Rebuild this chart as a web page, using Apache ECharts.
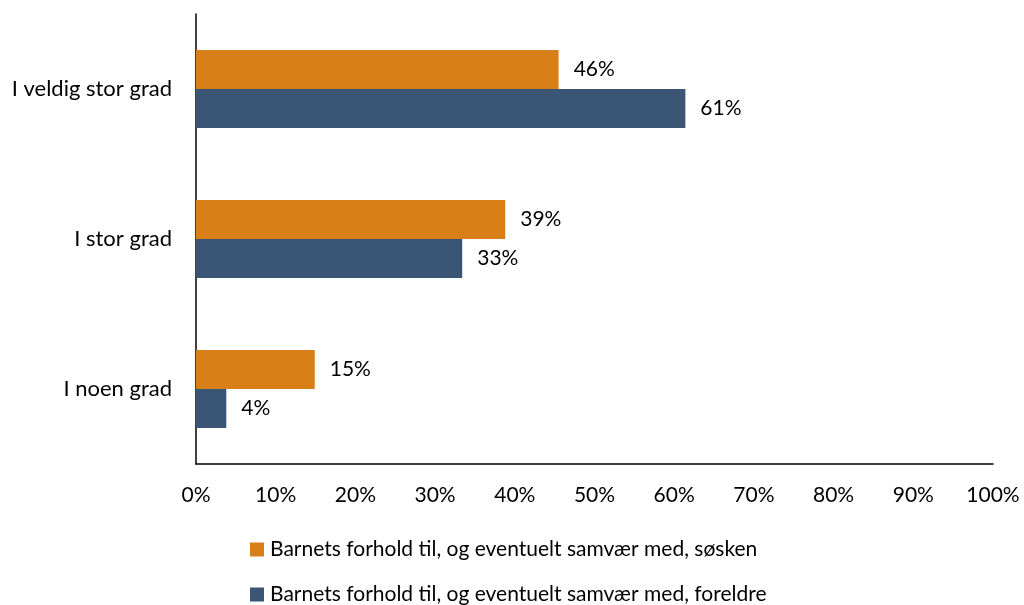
<!DOCTYPE html>
<html>
<head>
<meta charset="utf-8">
<script src="https://cdn.jsdelivr.net/npm/echarts@6/dist/echarts.min.js"></script>
<style>html,body{margin:0;padding:0;background:#fff}#c{width:1024px;height:605px}</style>
</head>
<body>
<div id="c"></div>
<script>
const categories = ["I veldig stor grad", "I stor grad", "I noen grad"];
const seriesNames = ["Barnets forhold til, og eventuelt samvær med, søsken", "Barnets forhold til, og eventuelt samvær med, foreldre"];
const soskenValues = [45.5, 38.8, 14.9];
const foreldreValues = [61.4, 33.4, 3.8];
const xTicks = [0, 10, 20, 30, 40, 50, 60, 70, 80, 90, 100];

const FONT = "Lato";
const FS = 21;
const chart = echarts.init(document.getElementById('c'), null, {renderer: 'canvas'});
const catRev = categories.slice().reverse();
const labelCfg = {show: true, position: 'right', distance: 15, color: '#000', fontFamily: FONT, fontSize: FS,
  formatter: p => Math.round(p.value) + '%'};
const legendBase = {orient: 'horizontal', left: 250, padding: 0, itemWidth: 14, itemHeight: 14, icon: 'rect',
  textStyle: {fontFamily: FONT, fontSize: FS, color: '#000', padding: [0, 0, 0, 1]}};
chart.setOption({
  animation: false,
  textStyle: {fontFamily: FONT},
  grid: {left: 196, right: 31, top: 14, bottom: 141, containLabel: false},
  legend: [
    Object.assign({}, legendBase, {top: 539, data: [seriesNames[0]]}),
    Object.assign({}, legendBase, {top: 584, data: [seriesNames[1]]})
  ],
  xAxis: {
    type: 'value', min: xTicks[0], max: xTicks[xTicks.length - 1], interval: 10,
    axisLine: {show: true, lineStyle: {color: '#000', width: 1.5}},
    axisTick: {show: false}, splitLine: {show: false},
    axisLabel: {color: '#000', fontSize: FS, fontFamily: FONT, margin: 21, formatter: v => v + '%'}
  },
  yAxis: {
    type: 'category', data: catRev,
    axisLine: {show: true, lineStyle: {color: '#000', width: 1.5}},
    axisTick: {show: false},
    axisLabel: {color: '#000', fontSize: 22, fontFamily: FONT, margin: 24}
  },
  series: [
    {name: seriesNames[0], type: 'bar', data: soskenValues.slice().reverse(), barWidth: 39, barGap: '0%',
     itemStyle: {color: '#D87F18'}, label: labelCfg},
    {name: seriesNames[1], type: 'bar', data: foreldreValues.slice().reverse(), barWidth: 39, barGap: '0%',
     itemStyle: {color: '#3A5674'}, label: labelCfg}
  ]
});
</script>
</body>
</html>
